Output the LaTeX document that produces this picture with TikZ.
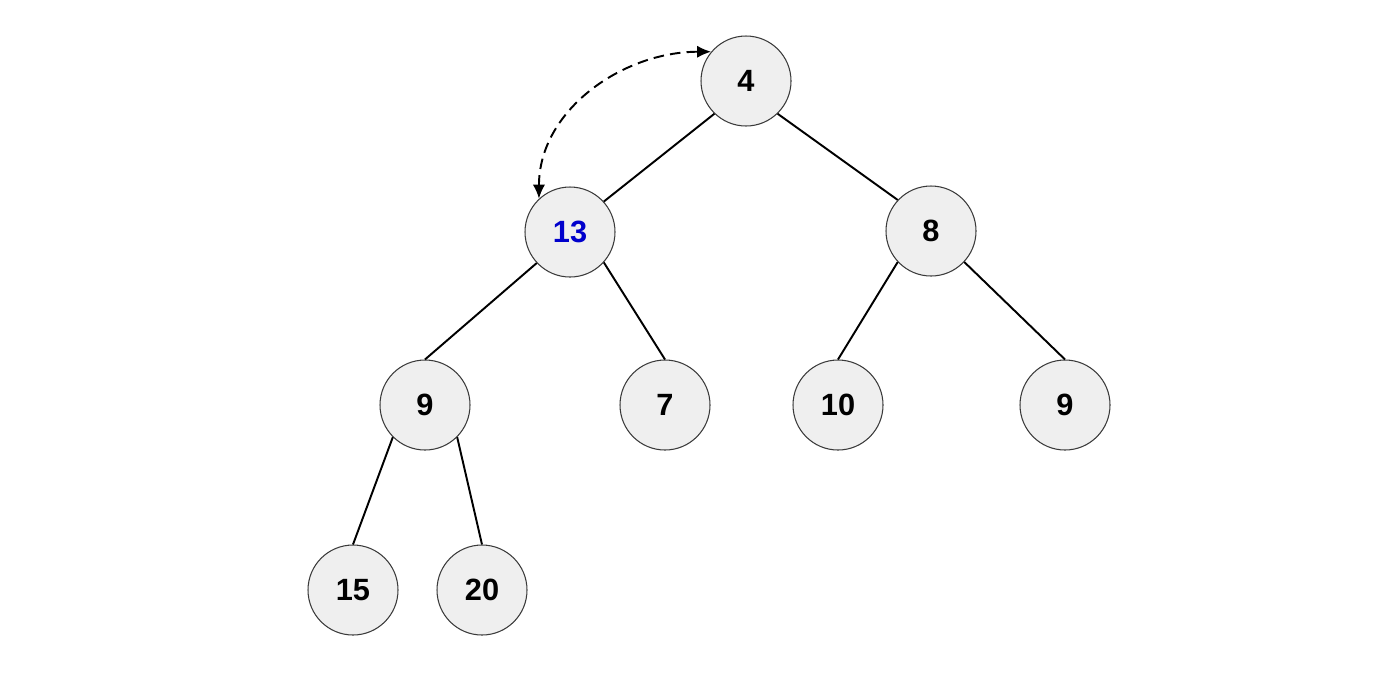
\documentclass[tikz,border=0pt]{standalone}
\usepackage{fontspec}
\setmainfont{Liberation Sans}
\usetikzlibrary{arrows.meta}
\definecolor{nodefill}{HTML}{EFEFEF}
\definecolor{nodeedge}{HTML}{3A3A3A}
\definecolor{swapblue}{HTML}{0000CC}

\begin{document}
\begin{tikzpicture}[
    heapnode/.style={circle, draw=nodeedge, line width=0.6pt, fill=nodefill, minimum size=1.8cm, inner sep=0pt, font=\fontsize{17.5}{20}\selectfont\bfseries},
    edge/.style={line width=1.1pt},
    swap/.style={line width=1.1pt, dash pattern=on 6pt off 3.5pt, {Latex[length=8pt,width=7pt]}-{Latex[length=8pt,width=7pt]}}
  ]
    \useasboundingbox (0,0) rectangle (28,-13.44);

    % heap nodes
    \node[heapnode] (n4) at (14.92,-1.62) {4};
    \node[heapnode, text=swapblue] (n13) at (11.40,-4.64) {13};
    \node[heapnode] (n8) at (18.62,-4.62) {8};
    \node[heapnode] (n9a) at (8.50,-8.10) {9};
    \node[heapnode] (n7) at (13.30,-8.10) {7};
    \node[heapnode] (n10) at (16.76,-8.10) {10};
    \node[heapnode] (n9b) at (21.30,-8.10) {9};
    \node[heapnode] (n15) at (7.06,-11.80) {15};
    \node[heapnode] (n20) at (9.64,-11.80) {20};

    % tree edges
    \draw[edge] (n4.226) -- (n13.42);
    \draw[edge] (n4.314) -- (n8.137);
    \draw[edge] (n13.223) -- (n9a.north);
    \draw[edge] (n13.318) -- (n7.north);
    \draw[edge] (n8.223) -- (n10.north);
    \draw[edge] (n8.317) -- (n9b.north);
    \draw[edge] (n9a.225) -- (n15.north);
    \draw[edge] (n9a.315) -- (n20.north);

    % swap
    \draw[swap] (n13.133) to[out=90, in=180] (n4.140);
  \end{tikzpicture}
\end{document}
